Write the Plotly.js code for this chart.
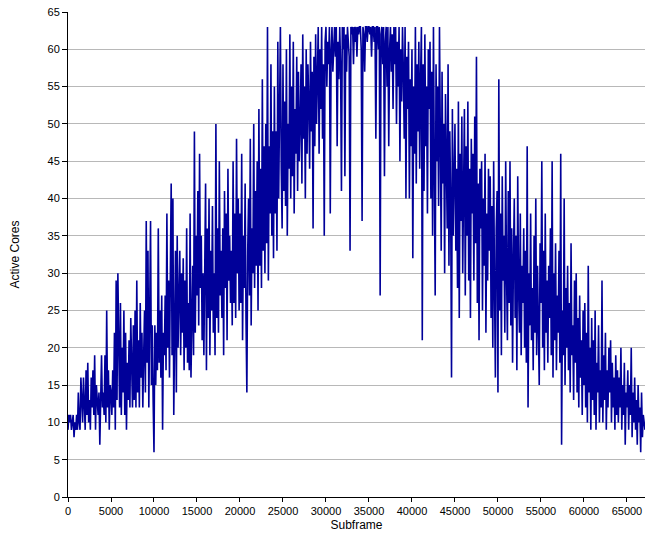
<!DOCTYPE html>
<html>
<head>
<meta charset="utf-8">
<script src="https://cdn.plot.ly/plotly-3.0.1.min.js"></script>
<style>
  html, body { margin: 0; padding: 0; background: #ffffff; }
  #chart { width: 645px; height: 533px; }
</style>
</head>
<body>
<div id="chart"></div>
<script>
// Sampling interval of the subframe axis (one reading every 100 subframes)
const subframeStep = 100;

// Active cores, one row per 1000 subframes
const activeCores = [
  9,11,10,11,9,10,11,8,10,9,
  11,9,14,10,9,16,11,10,16,12,
  9,17,11,18,10,13,9,16,12,17,
  11,19,9,15,12,11,14,7,13,19,
  12,14,11,19,10,25,12,17,9,15,
  14,11,17,12,22,9,29,13,30,17,
  12,26,11,20,14,25,11,22,9,18,
  13,21,12,24,15,12,23,13,25,12,
  29,14,21,12,26,16,22,12,19,25,
  14,37,18,33,12,26,37,15,23,13,
  6,23,15,22,17,36,18,25,16,27,
  9,22,19,27,17,38,20,29,16,30,
  42,19,40,11,25,33,14,35,20,28,
  33,19,30,22,32,17,29,20,36,18,
  26,17,38,16,24,31,19,49,22,35,
  27,41,23,46,28,35,21,30,19,33,
  42,17,36,24,40,19,33,25,39,22,
  30,19,50,24,36,22,45,27,33,24,
  36,19,41,28,38,21,44,29,35,26,
  33,23,45,26,38,24,48,30,40,25,
  38,26,46,21,35,28,42,24,14,33,
  40,27,48,23,36,30,50,28,41,31,
  45,25,52,31,44,28,56,33,47,30,
  50,34,63,29,47,38,58,35,49,32,
  55,38,49,33,61,40,52,63,44,36,
  58,41,53,39,60,35,50,44,62,40,
  55,43,61,38,52,46,59,41,57,45,
  50,58,42,62,48,55,40,60,46,58,
  53,44,61,49,57,36,59,47,62,50,
  56,63,46,60,52,63,48,58,35,61,
  63,55,61,58,63,38,60,63,57,62,
  63,59,63,47,61,56,63,58,41,63,
  60,63,43,62,57,63,61,59,33,63,
  62,63,58,63,61,63,59,63,62,63,
  63,60,37,63,62,57,63,63,61,63,
  63,62,63,59,63,63,61,63,48,63,
  63,60,63,27,62,63,58,63,43,61,
  63,55,63,47,60,63,57,62,52,63,
  58,63,50,61,55,63,45,60,53,63,
  57,48,63,40,59,52,61,40,56,47,
  60,32,55,46,63,42,58,49,61,44,
  56,63,21,58,41,62,47,55,38,60,
  52,61,40,57,35,63,44,27,58,45,
  55,39,63,48,33,57,42,50,30,54,
  47,36,58,31,49,40,16,52,35,45,
  50,33,44,28,53,24,46,37,51,30,
  43,52,27,47,35,53,29,44,24,48,
  38,46,29,51,34,59,26,42,21,44,
  36,45,25,40,31,46,22,38,29,44,
  33,43,24,39,20,45,28,16,36,41,
  14,56,25,38,19,43,29,35,22,45,
  30,21,41,26,45,23,36,18,32,40,
  24,35,17,43,28,22,38,19,31,26,
  36,20,33,18,47,12,30,23,38,21,
  28,17,35,22,40,19,31,24,15,34,
  26,45,20,33,17,38,22,29,18,31,
  24,36,19,45,16,30,21,34,17,27,
  22,33,18,46,7,25,19,40,15,28,
  20,31,17,26,14,34,19,23,13,29,
  18,30,14,24,12,27,16,21,11,25,
  15,26,12,22,10,31,14,20,9,24,
  13,21,11,25,9,18,14,23,10,17,
  12,29,10,19,13,22,9,17,12,20,
  14,21,10,18,12,16,9,19,11,17,
  10,16,12,20,9,15,11,18,7,14,
  12,17,9,15,11,20,8,14,10,16,
  9,13,7,15,10,12,6,14,8,11,
  10,9
];

const xTickValues = [0,5000,10000,15000,20000,25000,30000,35000,40000,45000,50000,55000,60000,65000];
const yTickValues = [0,5,10,15,20,25,30,35,40,45,50,55,60,65];

const subframes = activeCores.map((_, i) => i * subframeStep);

const trace = {
  x: subframes,
  y: activeCores,
  type: 'scatter',
  mode: 'lines',
  line: { color: '#000099', width: 1.6 },
  hoverinfo: 'x+y'
};

const font = { family: 'Liberation Sans, Arial, Helvetica, sans-serif', size: 11, color: '#000000' };

const layout = {
  width: 645,
  height: 533,
  margin: { l: 68, r: 0, t: 12, b: 36, pad: 0 },
  paper_bgcolor: '#ffffff',
  plot_bgcolor: '#ffffff',
  showlegend: false,
  font: font,
  xaxis: {
    range: [0, 67100],
    tickvals: xTickValues,
    ticktext: xTickValues.map(String),
    ticks: 'outside',
    ticklen: 4,
    tickcolor: '#000000',
    tickwidth: 1,
    showgrid: false,
    zeroline: false,
    showline: true,
    linecolor: '#000000',
    linewidth: 1,
    tickfont: font,
    title: { text: 'Subframe', font: { family: font.family, size: 12, color: '#000000' }, standoff: 4 },
    automargin: false
  },
  yaxis: {
    range: [0, 65],
    tickvals: yTickValues,
    ticktext: yTickValues.map(String),
    ticks: 'outside',
    ticklen: 5,
    tickcolor: '#000000',
    tickwidth: 1,
    showgrid: true,
    gridcolor: '#b8b8b8',
    gridwidth: 1,
    zeroline: false,
    showline: true,
    linecolor: '#000000',
    linewidth: 1,
    tickfont: font,
    title: { text: 'Active Cores', font: { family: font.family, size: 12, color: '#000000' }, standoff: 25 },
    automargin: false
  }
};

Plotly.newPlot('chart', [trace], layout, { staticPlot: true, displayModeBar: false });
</script>
</body>
</html>
